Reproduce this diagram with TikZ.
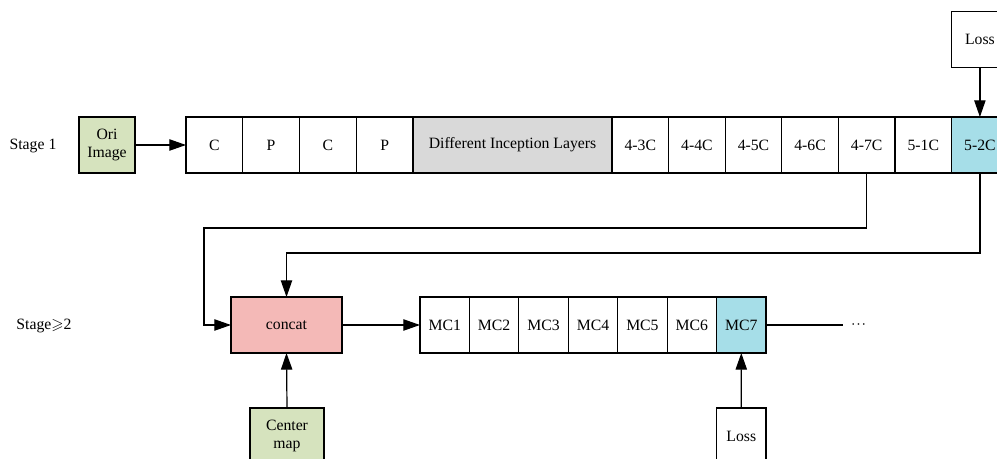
\documentclass[tikz,border=0pt]{standalone}
\usepackage{amssymb}
\usepackage{fontspec}
\setmainfont{Liberation Serif}
\usetikzlibrary{arrows.meta}

\definecolor{oriGreen}{RGB}{214,227,190}
\definecolor{incGray}{RGB}{217,217,217}
\definecolor{outCyan}{RGB}{166,222,232}
\definecolor{catPink}{RGB}{244,185,183}

\tikzset{
  cell/.style={draw=black, line width=0.9pt, inner sep=0pt, outer sep=0pt,
    minimum height=42pt, anchor=west, align=center,
    font=\fontsize{11.8}{13.5}\selectfont},
  box/.style={draw=black, line width=0.9pt, inner sep=0pt, outer sep=0pt,
    align=center, font=\fontsize{11.8}{13.5}\selectfont},
  lbl/.style={inner sep=0pt, font=\fontsize{11.8}{13.5}\selectfont},
  arr/.style={draw=black, line width=0.9pt, -{Triangle[length=12.5pt,width=8.5pt]}},
  ln/.style={draw=black, line width=0.9pt},
}

\begin{document}
\begin{tikzpicture}[x=0.75pt, y=-0.75pt]
\useasboundingbox (0,0) rectangle (997,459);

% stage labels
\node[lbl] (s1) at (33,146) {Stage 1};
\node[lbl] (s2) at (44,326) {Stage$\geqslant$2};

% stage 1 input
\node[box, fill=oriGreen, minimum width=42pt, minimum height=42pt] (ori) at (107,145) {Ori\\Image};

% stage 1 backbone
\node[cell, minimum width=42.56pt] (c1) at (186,145) {C};
\node[cell, minimum width=42.56pt] (p1) at (242.75,145) {P};
\node[cell, minimum width=42.56pt] (c2) at (299.5,145) {C};
\node[cell, minimum width=42.56pt] (p2) at (356.25,145) {P};
\node[cell, minimum width=149.25pt, fill=incGray] (dil) at (413,145) {Different Inception Layers};
\node[cell, minimum width=42.45pt] (c43) at (612,145) {4-3C};
\node[cell, minimum width=42.45pt] (c44) at (668.6,145) {4-4C};
\node[cell, minimum width=42.45pt] (c45) at (725.2,145) {4-5C};
\node[cell, minimum width=42.45pt] (c46) at (781.8,145) {4-6C};
\node[cell, minimum width=42.45pt] (c47) at (838.4,145) {4-7C};
\node[cell, minimum width=42.45pt] (c51) at (895,145) {5-1C};
\node[cell, minimum width=42.45pt, fill=outCyan] (c52) at (951.6,145) {5-2C};

\node[box, minimum width=42.45pt, minimum height=41.5pt] (lossA) at (979.9,39.5) {Loss};

% stage >= 2
\node[box, fill=catPink, minimum width=83.25pt, minimum height=42pt] (concat) at (286.5,325) {concat};
\node[box, fill=oriGreen, minimum width=55.5pt, minimum height=42pt] (cmap) at (287,436) {Center\\map};

\node[cell, minimum width=37.07pt] (m1) at (420,325) {MC1};
\node[cell, minimum width=37.07pt] (m2) at (469.43,325) {MC2};
\node[cell, minimum width=37.07pt] (m3) at (518.86,325) {MC3};
\node[cell, minimum width=37.07pt] (m4) at (568.29,325) {MC4};
\node[cell, minimum width=37.07pt] (m5) at (617.71,325) {MC5};
\node[cell, minimum width=37.07pt] (m6) at (667.14,325) {MC6};
\node[cell, minimum width=37.07pt, fill=outCyan] (m7) at (716.57,325) {MC7};

\node[box, minimum width=37.07pt, minimum height=42pt] (lossB) at (741.3,436) {Loss};

\node[lbl] (dots) at (858.5,325) {${\cdot}\kern0.6pt{\cdot}\kern0.6pt{\cdot}$};
\coordinate (tail) at (843,325);

% bend points of the feedback connectors
\coordinate (k1) at (204,228);
\coordinate (k2) at (286.5,253);

% connectors
\draw[arr] (ori.east) -- (c1.west);
\draw[arr] (lossA.south) -- (c52.north);
\draw[arr] (c47.south) |- (k1) |- (concat.west);
\draw[arr] (c52.south) |- (k2) -- (concat.north);
\draw[arr] (concat.east) -- (m1.west);
\draw[arr] (cmap.north) -- (concat.south);
\draw[arr] (lossB.north) -- (m7.south);
\draw[ln] (m7.east) -- (tail);
\end{tikzpicture}
\end{document}
